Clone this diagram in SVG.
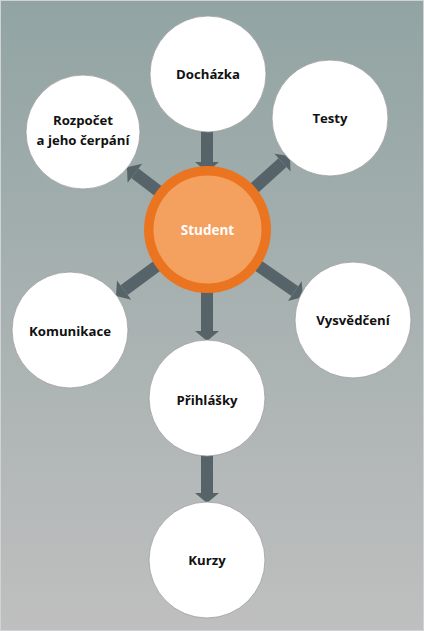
<svg xmlns="http://www.w3.org/2000/svg" width="424" height="631" viewBox="0 0 424 631">
  <defs>
    <linearGradient id="bg" x1="0" y1="0" x2="0" y2="1">
      <stop offset="0" stop-color="#91a4a3"/>
      <stop offset="1" stop-color="#bfbfbf"/>
    </linearGradient>
    <marker id="ah" markerUnits="userSpaceOnUse" markerWidth="10" markerHeight="24" refX="0" refY="12" orient="auto" overflow="visible">
      <path d="M0,0 L10,12 L0,24 Z" fill="#56646a"/>
    </marker>
    <style>
      .sat { fill: #ffffff; stroke: #9a9a9a; stroke-width: 0.8; }
      .lbl { font-family: "Open Sans", "Liberation Sans", sans-serif; font-weight: 700; font-size: 13.2px; fill: #111111; text-anchor: middle; }
      .arr { stroke: #56646a; stroke-width: 12; fill: none; marker-end: url(#ah); }
    </style>
  </defs>
  <rect x="0" y="0" width="424" height="631" fill="url(#bg)"/>
  <rect x="0.5" y="0.5" width="423" height="630" fill="none" stroke="#cfd3d3" stroke-width="1"/>

  <g id="connectors">
    <line class="arr" x1="207" y1="128" x2="207" y2="162"/>
    <line class="arr" x1="207" y1="285" x2="207" y2="331"/>
    <line class="arr" x1="207" y1="450" x2="207" y2="493"/>
    <line class="arr" x1="170" y1="200" x2="134.9" y2="173.2"/>
    <line class="arr" x1="250" y1="192" x2="282.5" y2="162.6"/>
    <line class="arr" x1="165" y1="260" x2="124.1" y2="290.1"/>
    <line class="arr" x1="250" y1="260" x2="294.8" y2="291.2"/>
  </g>

  <g id="dochazka">
    <circle class="sat" cx="208" cy="74" r="58"/>
    <text class="lbl" x="208" y="79">Docházka</text>
  </g>
  <g id="testy">
    <circle class="sat" cx="330" cy="118" r="58"/>
    <text class="lbl" x="330" y="123">Testy</text>
  </g>
  <g id="rozpocet">
    <circle class="sat" cx="83" cy="132" r="57"/>
    <text class="lbl" x="83" y="125">Rozpočet</text>
    <text class="lbl" x="83" y="145">a jeho čerpání</text>
  </g>
  <g id="komunikace">
    <circle class="sat" cx="70" cy="330" r="58"/>
    <text class="lbl" x="70" y="336">Komunikace</text>
  </g>
  <g id="vysvedceni">
    <circle class="sat" cx="353" cy="320" r="58"/>
    <text class="lbl" x="353" y="325">Vysvědčení</text>
  </g>
  <g id="prihlasky">
    <circle class="sat" cx="207" cy="398" r="58"/>
    <text class="lbl" x="207" y="405">Přihlášky</text>
  </g>
  <g id="kurzy">
    <circle class="sat" cx="207" cy="560" r="58"/>
    <text class="lbl" x="207" y="565">Kurzy</text>
  </g>
  <g id="student">
    <circle cx="207.5" cy="229.5" r="63.5" fill="#ea7420"/>
    <circle cx="207.5" cy="229.5" r="54" fill="#f4a05e"/>
    <text x="207.5" y="234.5" font-family="'Open Sans', 'Liberation Sans', sans-serif" font-weight="700" font-size="13.5" fill="#ffffff" text-anchor="middle">Student</text>
  </g>
</svg>
